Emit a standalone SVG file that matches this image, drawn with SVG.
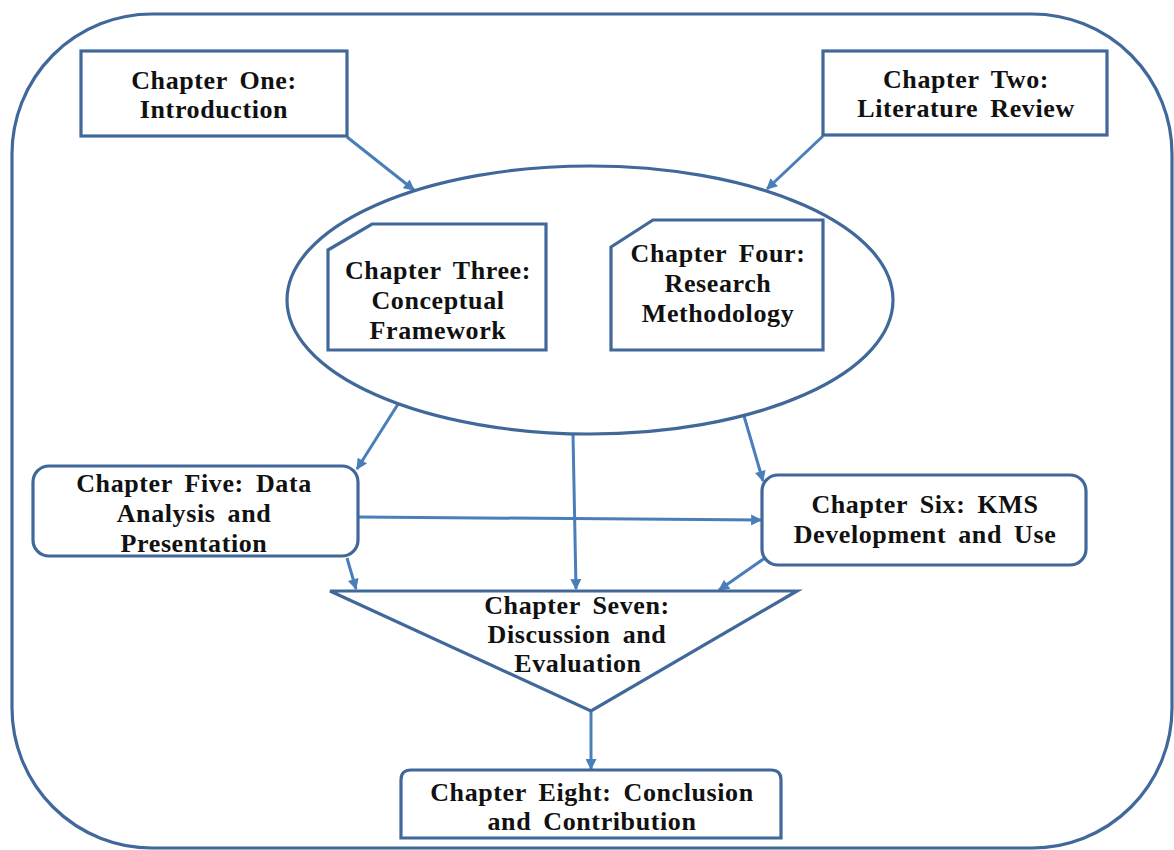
<svg xmlns="http://www.w3.org/2000/svg" width="1174" height="850" viewBox="0 0 1174 850">
  <style>
    .frame { fill: none; stroke: #41689a; stroke-width: 3.2; }
    .node { fill: #ffffff; stroke: #41689a; stroke-width: 3.2; stroke-linejoin: miter; }
    .link { fill: none; stroke: #4a7ebb; stroke-width: 3; }
    .lbl { font-family: "Liberation Serif", "Times New Roman", serif; font-weight: bold; font-size: 26px; fill: #111111; text-anchor: middle; letter-spacing: 0.6px; word-spacing: 5px; }
  </style>
  <defs>
    <marker id="arrow" viewBox="0 0 10 10" refX="9" refY="5" markerWidth="12" markerHeight="11" markerUnits="userSpaceOnUse" orient="auto-start-reverse">
      <path d="M0,0 L10,5 L0,10 z" fill="#4a7ebb"/>
    </marker>
  </defs>

  <rect width="1174" height="850" fill="#ffffff"/>

  <!-- outer frame -->
  <rect class="frame" x="12" y="14" width="1160" height="834" rx="140" ry="140"/>

  <!-- connectors -->
  <g id="connectors">
    <line class="link" x1="347" y1="137" x2="414" y2="190" marker-end="url(#arrow)"/>
    <line class="link" x1="823" y1="136" x2="767" y2="189" marker-end="url(#arrow)"/>
    <line class="link" x1="548" y1="287" x2="609" y2="286" marker-start="url(#arrow)" marker-end="url(#arrow)"/>
    <line class="link" x1="400" y1="401" x2="357" y2="469" marker-end="url(#arrow)"/>
    <line class="link" x1="573" y1="434" x2="576" y2="589" marker-end="url(#arrow)"/>
    <line class="link" x1="744" y1="416" x2="763" y2="481" marker-end="url(#arrow)"/>
    <line class="link" x1="359" y1="517" x2="761" y2="520" marker-end="url(#arrow)"/>
    <line class="link" x1="347" y1="558" x2="356" y2="589" marker-end="url(#arrow)"/>
    <line class="link" x1="765" y1="558" x2="719" y2="590" marker-end="url(#arrow)"/>
    <line class="link" x1="591" y1="712" x2="591" y2="769" marker-end="url(#arrow)"/>
  </g>

  <!-- Chapter One -->
  <g id="ch1">
    <rect class="node" x="81" y="51" width="266" height="85"/>
    <text class="lbl" x="214" y="89">Chapter One:</text>
    <text class="lbl" x="214" y="118">Introduction</text>
  </g>

  <!-- Chapter Two -->
  <g id="ch2">
    <rect class="node" x="823" y="51" width="284" height="84"/>
    <text class="lbl" x="966" y="88">Chapter Two:</text>
    <text class="lbl" x="966" y="117">Literature Review</text>
  </g>

  <!-- core ellipse holding chapters three and four -->
  <g id="core">
    <ellipse class="node" cx="590" cy="300" rx="303" ry="134"/>
  </g>

  <!-- Chapter Three -->
  <g id="ch3">
    <path class="node" d="M328,250 L372,224 L546,224 L546,350 L328,350 Z"/>
    <text class="lbl" x="438" y="279">Chapter Three:</text>
    <text class="lbl" x="438" y="309">Conceptual</text>
    <text class="lbl" x="438" y="339">Framework</text>
  </g>

  <!-- Chapter Four -->
  <g id="ch4">
    <path class="node" d="M611,247 L653,220 L823,220 L823,350 L611,350 Z"/>
    <text class="lbl" x="718" y="262">Chapter Four:</text>
    <text class="lbl" x="718" y="292">Research</text>
    <text class="lbl" x="718" y="322">Methodology</text>
  </g>

  <!-- Chapter Five -->
  <g id="ch5">
    <rect class="node" x="33" y="466" width="325" height="90" rx="16" ry="16"/>
    <text class="lbl" x="194" y="492">Chapter Five: Data</text>
    <text class="lbl" x="194" y="522">Analysis  and</text>
    <text class="lbl" x="194" y="552">Presentation</text>
  </g>

  <!-- Chapter Six -->
  <g id="ch6">
    <rect class="node" x="762" y="475" width="324" height="90" rx="16" ry="16"/>
    <text class="lbl" x="925" y="513">Chapter Six: KMS</text>
    <text class="lbl" x="925" y="543">Development and Use</text>
  </g>

  <!-- Chapter Seven -->
  <g id="ch7">
    <path class="node" d="M330,591 L797,591 L591,711 Z"/>
    <text class="lbl" x="577" y="614">Chapter Seven:</text>
    <text class="lbl" x="577" y="643">Discussion and</text>
    <text class="lbl" x="578" y="672">Evaluation</text>
  </g>

  <!-- Chapter Eight -->
  <g id="ch8">
    <path class="node" d="M401,838 L401,780 Q401,770 411,770 L771,770 Q781,770 781,780 L781,838 Z"/>
    <text class="lbl" x="592" y="801">Chapter Eight: Conclusion</text>
    <text class="lbl" x="592" y="830">and Contribution</text>
  </g>
</svg>
